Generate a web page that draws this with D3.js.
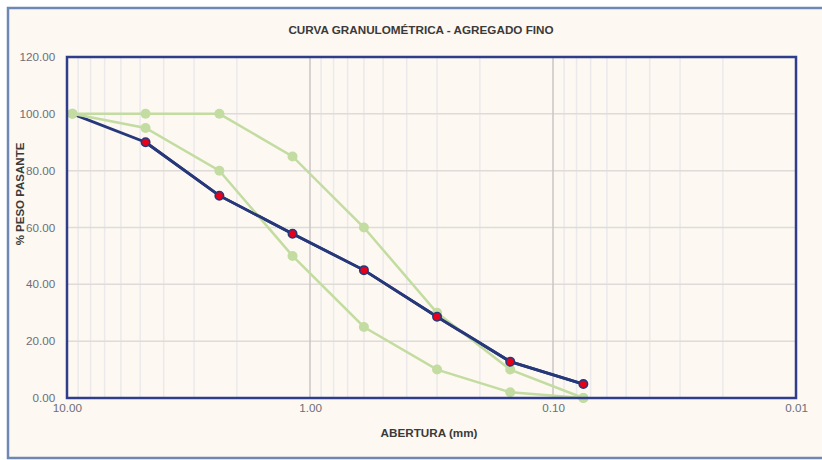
<!DOCTYPE html>
<html>
<head>
<meta charset="utf-8">
<script src="https://cdn.jsdelivr.net/npm/d3@7"></script>
<style>
  body { margin: 0; background: #fff; }
  svg { display: block; font-family: "Liberation Sans", Arial, sans-serif; }
</style>
</head>
<body>
<svg id="chart" width="822" height="460"></svg>
<script>
// aberturas de tamices (mm)
var aberturas = [9.5, 4.75, 2.36, 1.18, 0.6, 0.3, 0.15, 0.075];
var pasante   = [100, 90, 71.2, 57.8, 45, 28.6, 12.8, 4.9];
var limSup    = [100, 100, 100, 85, 60, 30, 10, 0];
var limInf    = [100, 95, 80, 50, 25, 10, 2, 0];
var xTicks    = [10, 1, 0.1, 0.01];
var yTicks    = [0, 20, 40, 60, 80, 100, 120];

var svg = d3.select("#chart");
var sx = 1.17; // texto algo ensanchado como en la imagen

// marco exterior
svg.append("rect")
    .attr("x", 8).attr("y", 8).attr("width", 830).attr("height", 450)
    .attr("fill", "#fdf8f1")
    .attr("stroke", "#6f88b3").attr("stroke-width", 2.5);

var margin = { top: 57, right: 26, bottom: 62, left: 67 },
    width = 822 - margin.left - margin.right,
    height = 460 - margin.top - margin.bottom;

var x = d3.scaleLog().domain([10, 0.01]).range([0, width]),
    y = d3.scaleLinear().domain([0, 120]).range([height, 0]);

var g = svg.append("g")
    .attr("transform", "translate(" + margin.left + "," + margin.top + ")");

// grilla menor (log)
var minor = [];
[1, 0.1, 0.01].forEach(function(d) {
  for (var k = 2; k <= 9; k++) minor.push(d * k);
});
g.selectAll(".minor")
  .data(minor)
  .enter().append("line")
    .attr("x1", function(d) { return x(d); })
    .attr("x2", function(d) { return x(d); })
    .attr("y1", 0).attr("y2", height)
    .attr("stroke", "#ebe9ec").attr("stroke-width", 1.5);

// grilla horizontal
g.selectAll(".hgrid")
  .data(yTicks.slice(1, -1))
  .enter().append("line")
    .attr("x1", 0).attr("x2", width)
    .attr("y1", function(d) { return y(d); })
    .attr("y2", function(d) { return y(d); })
    .attr("stroke", "#dedbd9").attr("stroke-width", 1.5);

// grilla mayor vertical
g.selectAll(".vgrid")
  .data([1, 0.1])
  .enter().append("line")
    .attr("x1", function(d) { return x(d); })
    .attr("x2", function(d) { return x(d); })
    .attr("y1", 0).attr("y2", height)
    .attr("stroke", "#c9c6c6").attr("stroke-width", 1.5);

// ejes
var xAxis = g.append("g")
    .attr("transform", "translate(0," + height + ")")
    .call(d3.axisBottom(x).tickValues(xTicks).tickFormat(d3.format(".2f")).tickSize(0).tickPadding(7));
var yAxis = g.append("g")
    .call(d3.axisLeft(y).tickValues(yTicks).tickFormat(d3.format(".2f")).tickSize(0).tickPadding(10));
[xAxis, yAxis].forEach(function(a) {
  a.select(".domain").remove();
  a.selectAll("text")
    .attr("fill", "#6b6f7a")
    .attr("transform", "scale(" + sx + ",1)")
    .style("font-size", "10px");
});
yAxis.selectAll("text").attr("dy", "0.35em");

var linea = d3.line()
    .x(function(d) { return x(d[0]); })
    .y(function(d) { return y(d[1]); });

var curva = aberturas.map(function(a, i) { return [a, pasante[i]]; });

function trazo(pts) {
  g.append("path")
      .datum(pts)
      .attr("fill", "none")
      .attr("stroke", "#27387a")
      .attr("stroke-width", 2.8)
      .attr("d", linea);
}

// curva completa por debajo de los limites
trazo(curva);

// limites
[limSup, limInf].forEach(function(serie) {
  var pts = aberturas.map(function(a, i) { return [a, serie[i]]; });
  g.append("path")
      .datum(pts)
      .attr("fill", "none")
      .attr("stroke", "#c3dca1")
      .attr("stroke-width", 2.5)
      .attr("d", linea);
  g.selectAll(null)
    .data(pts)
    .enter().append("circle")
      .attr("cx", function(d) { return x(d[0]); })
      .attr("cy", function(d) { return y(d[1]); })
      .attr("r", 5)
      .attr("fill", "#c3dca1");
});

// curva granulometrica encima (el primer punto queda tapado por los limites)
trazo(curva.slice(1));
g.selectAll(".pt")
  .data(curva.slice(1))
  .enter().append("circle")
    .attr("cx", function(d) { return x(d[0]); })
    .attr("cy", function(d) { return y(d[1]); })
    .attr("r", 4.2)
    .attr("fill", "#e8001a")
    .attr("stroke", "#27387a")
    .attr("stroke-width", 1.6);

// borde del area de trazado
g.append("rect")
    .attr("width", width).attr("height", height)
    .attr("fill", "none")
    .attr("stroke", "#2f3d8a").attr("stroke-width", 2.5);

// titulos
function titulo(tx, ty, size, texto, rot) {
  svg.append("text")
      .attr("transform", "translate(" + tx + "," + ty + ")" + (rot ? " rotate(-90)" : " scale(" + sx + ",1)"))
      .attr("text-anchor", "middle")
      .style("font-size", size + "px").style("font-weight", "bold")
      .attr("fill", "#3a3a3a")
      .text(texto);
}
titulo(421, 34, 10, "CURVA GRANULOMÉTRICA - AGREGADO FINO");
titulo(429, 437, 10, "ABERTURA (mm)");
titulo(24, 194, 11.5, "% PESO PASANTE", true);
</script>
</body>
</html>
